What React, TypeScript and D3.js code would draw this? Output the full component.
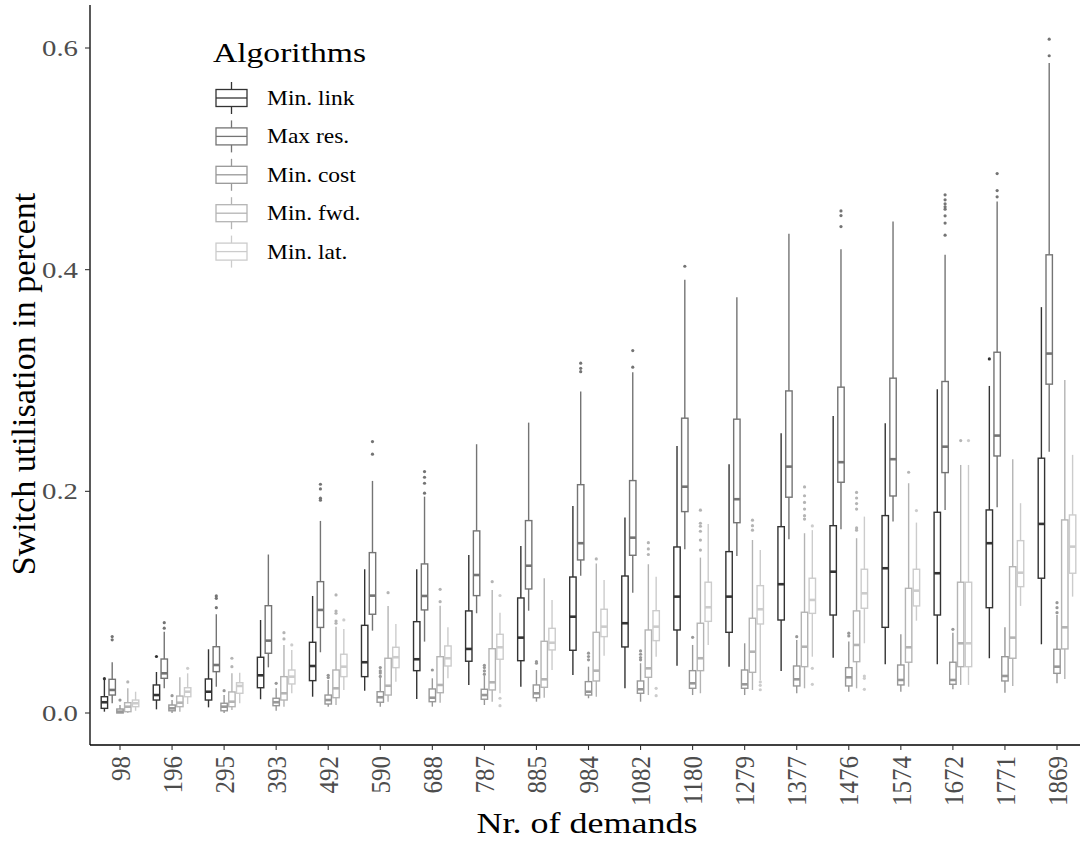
import React from "react";
import * as d3 from "d3";

// Demand levels on the x axis
const demands = ["98", "196", "295", "393", "492", "590", "688", "787", "885", "984",
  "1082", "1180", "1279", "1377", "1476", "1574", "1672", "1771", "1869"];

const algorithms = ["Min. link", "Max res.", "Min. cost", "Min. fwd.", "Min. lat."];
const greys = ["#333333", "#747474", "#989898", "#B4B4B4", "#CCCCCC"];

const yTicks = [0, 0.2, 0.4, 0.6];

// Box statistics per demand level: [lower whisker, q1, median, q3, upper whisker]
const minLinkStats = [
  [0.0012, 0.0042, 0.0097, 0.0147, 0.0298],
  [0.0033, 0.0117, 0.0162, 0.0253, 0.037],
  [0.0051, 0.0117, 0.0192, 0.0307, 0.0575],
  [0.0124, 0.0228, 0.034, 0.0503, 0.0839],
  [0.0147, 0.0292, 0.0424, 0.0638, 0.1056],
  [0.0201, 0.0328, 0.0458, 0.0791, 0.1297],
  [0.0126, 0.0382, 0.0485, 0.0824, 0.1297],
  [0.0253, 0.0467, 0.0578, 0.0921, 0.1426],
  [0.0237, 0.0472, 0.068, 0.1038, 0.1507],
  [0.0343, 0.0566, 0.0869, 0.1227, 0.1868],
  [0.0223, 0.0596, 0.081, 0.1236, 0.1763],
  [0.0427, 0.0749, 0.105, 0.1498, 0.241],
  [0.0418, 0.0728, 0.105, 0.1456, 0.2245],
  [0.0379, 0.0839, 0.1162, 0.1681, 0.2524],
  [0.0499, 0.0884, 0.1275, 0.169, 0.268],
  [0.044, 0.0773, 0.1306, 0.1781, 0.2615],
  [0.044, 0.0884, 0.1261, 0.1811, 0.2922],
  [0.0494, 0.095, 0.1532, 0.1832, 0.2951],
  [0.062, 0.1216, 0.1706, 0.2299, 0.3662],
];
const minLinkOutliers = [
  [0.031], [0.051], [], [], [], [], [], [], [], [],
  [], [], [], [], [], [], [], [0.3195], [],
];

const maxResStats = [
  [0.0088, 0.0162, 0.0208, 0.0304, 0.0458],
  [0.0223, 0.0313, 0.0358, 0.0487, 0.0734],
  [0.0237, 0.0373, 0.0433, 0.0598, 0.0891],
  [0.0412, 0.0539, 0.0653, 0.0968, 0.143],
  [0.0548, 0.0772, 0.093, 0.1185, 0.1733],
  [0.0743, 0.0891, 0.1059, 0.1447, 0.2094],
  [0.0644, 0.093, 0.1056, 0.1345, 0.1952],
  [0.09, 0.1059, 0.1245, 0.1643, 0.2425],
  [0.0923, 0.1119, 0.1329, 0.1736, 0.262],
  [0.1239, 0.1381, 0.1532, 0.206, 0.29],
  [0.1086, 0.1423, 0.1582, 0.2097, 0.3075],
  [0.1477, 0.1817, 0.2042, 0.266, 0.3908],
  [0.1417, 0.1717, 0.1929, 0.2651, 0.3752],
  [0.1568, 0.1947, 0.2223, 0.2906, 0.4323],
  [0.1658, 0.2082, 0.2263, 0.294, 0.4185],
  [0.1727, 0.1958, 0.229, 0.3021, 0.4434],
  [0.1832, 0.2169, 0.2403, 0.2991, 0.4134],
  [0.1856, 0.2319, 0.2503, 0.3255, 0.4615],
  [0.2358, 0.2967, 0.3243, 0.4134, 0.5864],
];
const maxResOutliers = [
  [0.066, 0.069],
  [0.0765, 0.0815],
  [0.095, 0.1035, 0.1056],
  [],
  [0.192, 0.1938, 0.2022, 0.2064],
  [0.2335, 0.2449],
  [0.1983, 0.2073, 0.2127, 0.2178],
  [],
  [],
  [0.308, 0.311, 0.3156],
  [0.312, 0.327],
  [0.4031],
  [],
  [],
  [0.4389, 0.4488, 0.453],
  [],
  [0.4311, 0.442, 0.4486, 0.4546, 0.4567, 0.4594, 0.463, 0.4675],
  [0.4657, 0.4714, 0.4867],
  [0.593, 0.608],
];

const minCostStats = [
  [0.0, 0.0, 0.0012, 0.0036, 0.0072],
  [0.0, 0.002, 0.0042, 0.0072, 0.0117],
  [0.0, 0.002, 0.0057, 0.0088, 0.0162],
  [0.002, 0.0066, 0.0097, 0.0133, 0.0223],
  [0.0057, 0.0081, 0.0117, 0.0162, 0.0298],
  [0.0057, 0.0097, 0.0142, 0.0192, 0.0322],
  [0.0057, 0.0102, 0.0138, 0.0217, 0.0313],
  [0.0072, 0.0124, 0.0162, 0.0214, 0.034],
  [0.0102, 0.0138, 0.0178, 0.0253, 0.0388],
  [0.0133, 0.0162, 0.0192, 0.0283, 0.0418],
  [0.0102, 0.0178, 0.0214, 0.0289, 0.0449],
  [0.0162, 0.0223, 0.0268, 0.0382, 0.0614],
  [0.0162, 0.0223, 0.0259, 0.0388, 0.0629],
  [0.0178, 0.0244, 0.0304, 0.0424, 0.0659],
  [0.0192, 0.0244, 0.0322, 0.0409, 0.0644],
  [0.0192, 0.0253, 0.0298, 0.0433, 0.071],
  [0.0214, 0.0259, 0.0298, 0.0458, 0.0725],
  [0.0183, 0.0289, 0.0334, 0.0508, 0.0773],
  [0.0268, 0.0358, 0.0418, 0.0575, 0.0884],
];
const minCostOutliers = [
  [0.0117], [0.0156], [0.0201], [0.0268], [0.032, 0.034],
  [0.033, 0.036, 0.038, 0.041], [0.0388], [0.035, 0.038, 0.041, 0.043],
  [0.045, 0.0463], [0.048, 0.051, 0.054], [0.048, 0.05, 0.053, 0.056],
  [0.0683], [], [0.0689], [0.0695, 0.072], [], [0.0755], [],
  [0.0905, 0.095, 0.0995],
];

const minFwdStats = [
  [0.0, 0.0012, 0.0057, 0.0093, 0.0223],
  [0.0012, 0.0057, 0.0093, 0.0153, 0.0322],
  [0.0027, 0.0057, 0.0102, 0.019, 0.0358],
  [0.0057, 0.0117, 0.0178, 0.0328, 0.0614],
  [0.0072, 0.0138, 0.0223, 0.0388, 0.0779],
  [0.0102, 0.0162, 0.0246, 0.0494, 0.0966],
  [0.0093, 0.0183, 0.0253, 0.0508, 0.0968],
  [0.0102, 0.0208, 0.0277, 0.058, 0.111],
  [0.0138, 0.0232, 0.0304, 0.0647, 0.1216],
  [0.0147, 0.0289, 0.0382, 0.0728, 0.135],
  [0.0162, 0.0322, 0.0403, 0.0749, 0.1342],
  [0.0178, 0.0382, 0.0494, 0.081, 0.1402],
  [0.0208, 0.0367, 0.0553, 0.0855, 0.1561],
  [0.0223, 0.0418, 0.0598, 0.0909, 0.1622],
  [0.0223, 0.0463, 0.0614, 0.0921, 0.1577],
  [0.0237, 0.0458, 0.0593, 0.1125, 0.2073],
  [0.0253, 0.0418, 0.0629, 0.118, 0.2238],
  [0.0244, 0.0494, 0.068, 0.132, 0.229],
  [0.0307, 0.0578, 0.0773, 0.1742, 0.3005],
];
const minFwdOutliers = [
  [0.028], [], [0.0418, 0.0494], [0.0668, 0.0725],
  [0.081, 0.083, 0.09, 0.092, 0.1065], [0.1086], [0.1004, 0.1116], [0.1185],
  [], [0.139], [0.143, 0.148, 0.1537],
  [0.147, 0.156, 0.164, 0.1685, 0.1712, 0.183], [0.165, 0.169, 0.174],
  [0.175, 0.178, 0.184, 0.19, 0.196, 0.204],
  [0.165, 0.167, 0.184, 0.189, 0.194, 0.199], [0.2172], [0.2458], [], [],
];

const minLatStats = [
  [0.002, 0.0057, 0.0088, 0.0117, 0.0192],
  [0.0081, 0.0147, 0.0192, 0.0228, 0.0358],
  [0.0088, 0.0178, 0.0244, 0.0273, 0.0364],
  [0.0178, 0.0262, 0.0328, 0.0388, 0.0569],
  [0.0208, 0.0328, 0.0418, 0.053, 0.0758],
  [0.0283, 0.0409, 0.0503, 0.0593, 0.0803],
  [0.0313, 0.0424, 0.0494, 0.0605, 0.0773],
  [0.0178, 0.0485, 0.0593, 0.071, 0.0905],
  [0.0388, 0.0569, 0.0634, 0.0764, 0.102],
  [0.0517, 0.0689, 0.0779, 0.0936, 0.12],
  [0.0508, 0.0653, 0.0779, 0.0923, 0.123],
  [0.0614, 0.0827, 0.0954, 0.118, 0.1706],
  [0.0298, 0.0803, 0.0936, 0.1149, 0.1471],
  [0.0508, 0.0899, 0.102, 0.1216, 0.165],
  [0.0629, 0.0945, 0.108, 0.1297, 0.1772],
  [0.0833, 0.0966, 0.1104, 0.1297, 0.1718],
  [0.0253, 0.0418, 0.0629, 0.118, 0.2238],
  [0.0966, 0.114, 0.1266, 0.1555, 0.1893],
  [0.105, 0.1261, 0.1501, 0.1787, 0.2329],
];
const minLatOutliers = [
  [], [0.0403], [], [0.0614], [0.084], [], [], [0.0066, 0.0133, 0.106],
  [], [], [0.0156, 0.0223], [], [0.021, 0.025, 0.028],
  [0.0259, 0.0403, 0.1688], [0.0214, 0.0313, 0.0334], [0.1826], [0.2458], [], [],
];

const series = [
  { stats: minLinkStats, outliers: minLinkOutliers },
  { stats: maxResStats, outliers: maxResOutliers },
  { stats: minCostStats, outliers: minCostOutliers },
  { stats: minFwdStats, outliers: minFwdOutliers },
  { stats: minLatStats, outliers: minLatOutliers },
];

const FONT = "'Liberation Serif', 'Times New Roman', serif";

export default function App() {
  const W = 1080;
  const H = 842;
  const axisX = 90;
  const axisY = 745;

  const x = d3.scalePoint<string>().domain(demands).range([120, 1057]);
  const y = d3.scaleLinear().domain([0, 0.6]).range([713, 48]);
  const dodge = d3.scaleBand<string>().domain(algorithms).range([-19.5, 19.5]).padding(0);
  const bw = dodge.bandwidth();
  const boxW = bw - 1.4;

  const boxes: React.ReactNode[] = [];
  demands.forEach((d, i) => {
    series.forEach((s, j) => {
      const [lo, q1, med, q3, hi] = s.stats[i];
      const cx = (x(d) as number) + (dodge(algorithms[j]) as number) + bw / 2;
      const col = greys[j];
      boxes.push(
        <g key={`${d}-${j}`}>
          <line x1={cx} x2={cx} y1={y(q3)} y2={y(hi)} stroke={col} strokeWidth={1.4} />
          <line x1={cx} x2={cx} y1={y(q1)} y2={y(lo)} stroke={col} strokeWidth={1.4} />
          <rect x={cx - boxW / 2} width={boxW} y={y(q3)} height={y(q1) - y(q3)}
            fill="#fff" stroke={col} strokeWidth={1.4} />
          <line x1={cx - boxW / 2} x2={cx + boxW / 2} y1={y(med)} y2={y(med)}
            stroke={col} strokeWidth={2.6} />
          {s.outliers[i].map((v, k) => (
            <circle key={k} cx={cx} cy={y(v)} r={1.6} fill={col} />
          ))}
        </g>
      );
    });
  });

  const legendTop = 98;
  const legendStep = 38.4;

  return (
    <div style={{ position: "absolute", left: 0, top: 0 }}>
      <svg width={W} height={H} style={{ display: "block", background: "#fff" }}>
        {boxes}

        {/* axes */}
        <line x1={axisX} x2={axisX} y1={5} y2={axisY} stroke="#000" strokeWidth={1.3} />
        <line x1={axisX} x2={W} y1={axisY} y2={axisY} stroke="#000" strokeWidth={1.3} />

        {yTicks.map((t) => (
          <g key={t}>
            <line x1={axisX - 5} x2={axisX} y1={y(t)} y2={y(t)} stroke="#333" strokeWidth={1.1} />
            <text transform={`translate(78,${y(t)}) scale(1.2,1)`}
              textAnchor="end" dominantBaseline="central" fontFamily={FONT}
              fontSize={24} fill="#4d4d4d">{d3.format(".1f")(t)}</text>
          </g>
        ))}

        {demands.map((d) => (
          <g key={d}>
            <line x1={x(d)} x2={x(d)} y1={axisY} y2={axisY + 5} stroke="#333" strokeWidth={1.1} />
            <text transform={`translate(${(x(d) as number) + 1},${axisY + 11}) scale(1.05,1) rotate(-90)`}
              textAnchor="end" dominantBaseline="central" fontFamily={FONT}
              fontSize={25} fill="#4d4d4d">{d}</text>
          </g>
        ))}

        {/* axis titles */}
        <text transform="translate(587,833) scale(1.2,1)" textAnchor="middle"
          fontFamily={FONT} fontSize={30} fill="#000">Nr. of demands</text>
        <text transform="translate(23,384) scale(1.0,1) rotate(-90)" textAnchor="middle"
          dominantBaseline="central" fontFamily={FONT} fontSize={34} fill="#000">
          Switch utilisation in percent</text>

        {/* legend */}
        <text transform="translate(213,62) scale(1.2,1)" fontFamily={FONT}
          fontSize={28} fill="#000">Algorithms</text>
        {algorithms.map((a, j) => {
          const cy = legendTop + j * legendStep;
          const col = greys[j];
          const kx = 216;
          const kw = 31;
          const kc = kx + kw / 2;
          return (
            <g key={a}>
              <line x1={kc} x2={kc} y1={cy - 16} y2={cy + 16} stroke={col} strokeWidth={1.3} />
              <rect x={kx} y={cy - 8.5} width={kw} height={17} fill="#fff" stroke={col} strokeWidth={1.3} />
              <line x1={kx} x2={kx + kw} y1={cy} y2={cy} stroke={col} strokeWidth={1.3} />
              <text transform={`translate(267,${cy}) scale(1.12,1)`} dominantBaseline="central"
                fontFamily={FONT} fontSize={21} fill="#000">{a}</text>
            </g>
          );
        })}
      </svg>
    </div>
  );
}
